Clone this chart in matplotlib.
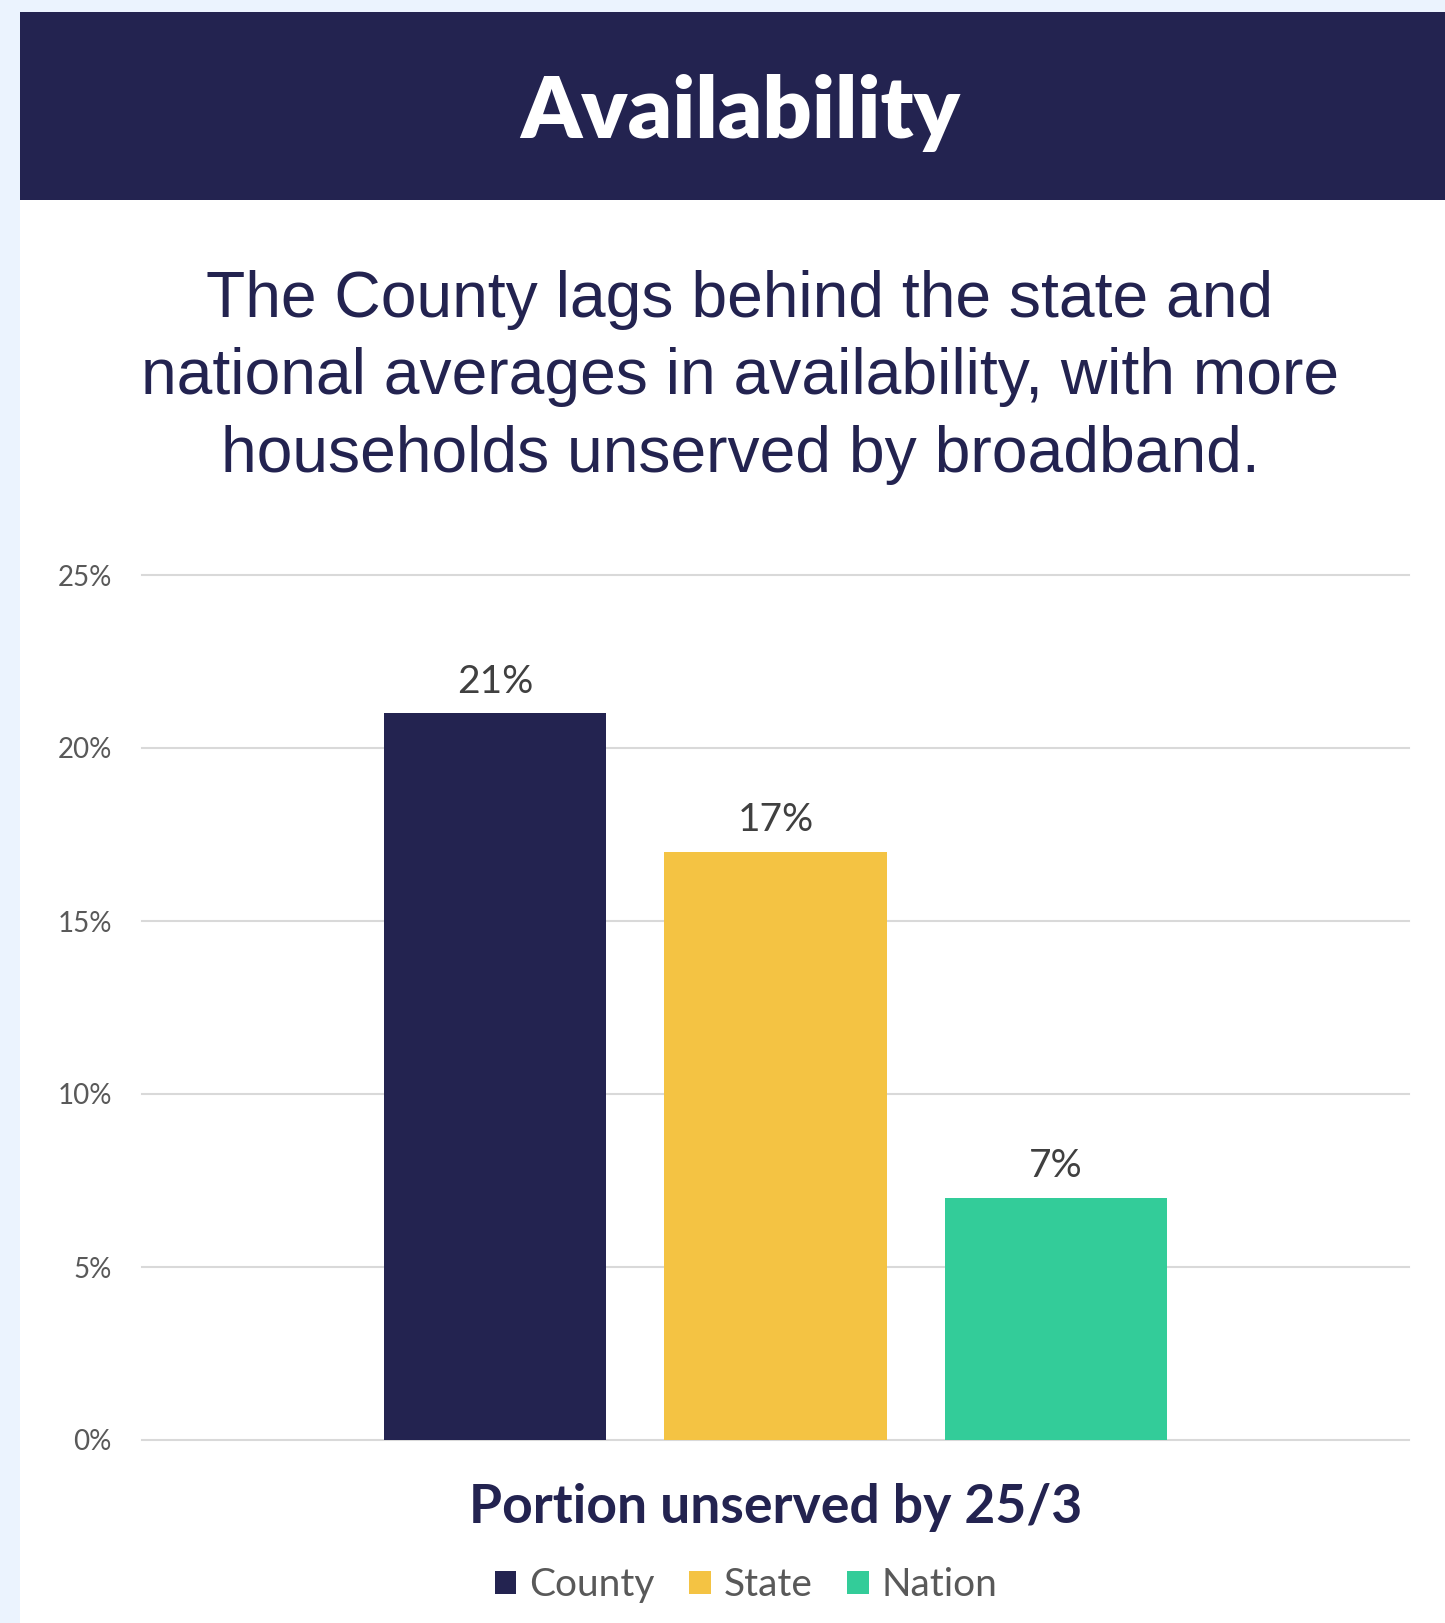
import matplotlib
matplotlib.use("Agg")
import matplotlib.pyplot as plt
from matplotlib.patches import Rectangle, Patch

# ---- data ----
series = ["County", "State", "Nation"]
values = [21, 17, 7]
value_labels = ["21%", "17%", "7%"]
yticks = [0, 5, 10, 15, 20, 25]
ytick_labels = ["0%", "5%", "10%", "15%", "20%", "25%"]
title = "Availability"
subtitle_lines = ["The County lags behind the state and",
                  "national averages in availability, with more",
                  "households unserved by broadband."]
xlabel = "Portion unserved by 25/3"

NAVY = "#232350"
colors = ["#232350", "#F4C343", "#33CC99"]
GRID = "#D9D9D9"
STRIP = "#EBF3FE"
TICK = "#595959"
VAL = "#404040"

W, H = 1445, 1623
fig = plt.figure(figsize=(W / 100, H / 100), dpi=100)
fig.patch.set_facecolor("white")

def fx(px):
    return px / W

def fy(py):
    return 1 - py / H

FONT = ["Lato", "DejaVu Sans"]

# background strips and header
fig.patches.append(Rectangle((0, 0), fx(20), 1, transform=fig.transFigure,
                             facecolor=STRIP, edgecolor="none", zorder=0))
fig.patches.append(Rectangle((0, fy(12)), 1, 12 / H, transform=fig.transFigure,
                             facecolor=STRIP, edgecolor="none", zorder=0))
fig.patches.append(Rectangle((fx(20), fy(200)), 1 - fx(20), 188 / H,
                             transform=fig.transFigure, facecolor=NAVY,
                             edgecolor="none", zorder=1))

fig.text(fx(740), fy(138), title, color="white", fontsize=62, fontweight="heavy",
         family=FONT, ha="center", va="baseline", zorder=3)

for line, base in zip(subtitle_lines, [317, 394, 472]):
    fig.text(fx(740), fy(base), line, color=NAVY, fontsize=46.2,
             family=["Liberation Sans", "DejaVu Sans"], ha="center", va="baseline")

# axes
left, right = 142, 1409
top, bottom = 575, 1440
ax = fig.add_axes([fx(left), fy(bottom), (right - left) / W, (bottom - top) / H])
ax.set_facecolor("none")
x = list(range(len(values)))
bars = ax.bar(x, values, width=0.793, color=colors, zorder=3)
ax.set_xlim(-1.26, 3.26)
ax.set_ylim(0, 25)
ax.set_yticks(yticks)
ax.set_yticklabels(ytick_labels, family=FONT, fontsize=20, color=TICK)
ax.set_xticks([])
ax.tick_params(axis="y", length=0, pad=21.6)
for s in ax.spines.values():
    s.set_visible(False)
ax.yaxis.grid(True, color=GRID, linewidth=1.5, zorder=0)
for gl in ax.get_ygridlines():
    gl.set_clip_on(False)

for xi, v, lab in zip(x, values, value_labels):
    ax.annotate(lab, (xi, v), xytext=(0, 15), textcoords="offset points",
                ha="center", va="baseline", fontsize=28, color=VAL, family=FONT)

fig.text(fx(775.5), fy(1523), xlabel, color=NAVY, fontsize=38.5, fontweight="bold",
         family=FONT, ha="center", va="baseline")

handles = [Patch(facecolor=c, edgecolor="none", label=s) for c, s in zip(colors, series)]
leg = fig.legend(handles=handles, loc="center", bbox_to_anchor=(fx(746), fy(1585)),
                 ncol=3, frameon=False, prop={"family": FONT, "size": 28},
                 handlelength=0.55, handleheight=0.55, handletextpad=0.33,
                 columnspacing=0.9, borderpad=0, borderaxespad=0)
for t in leg.get_texts():
    t.set_color(TICK)

fig.savefig("out.png", dpi=100, facecolor=fig.get_facecolor())
